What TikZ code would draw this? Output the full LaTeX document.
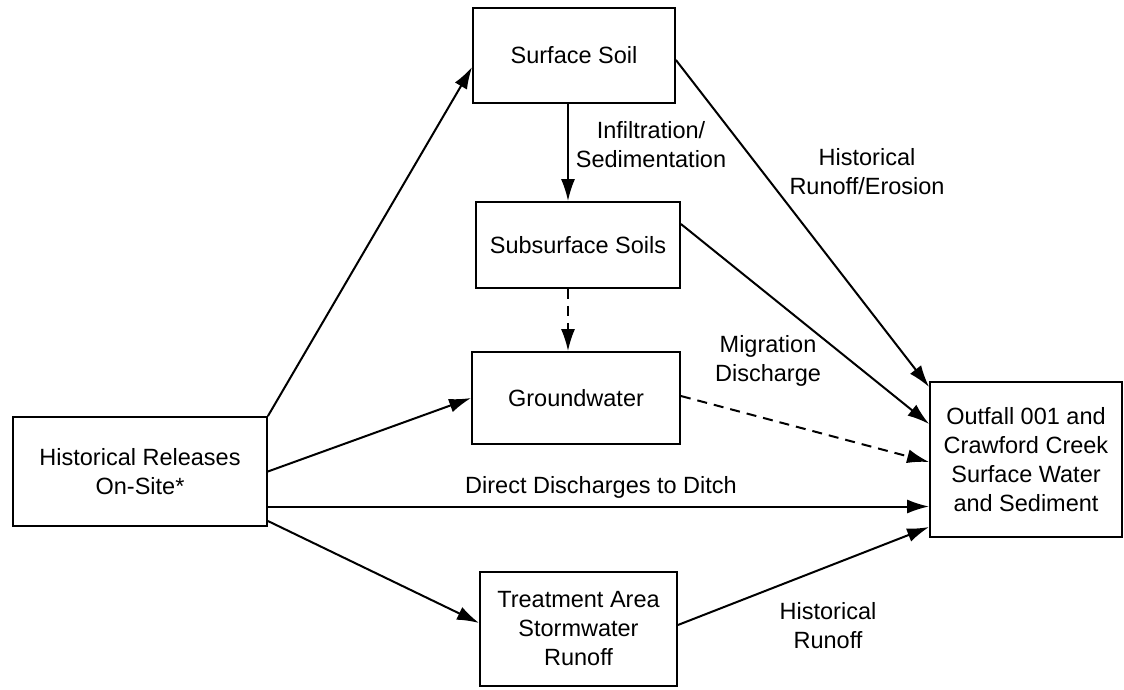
\documentclass[tikz,border=0pt]{standalone}
\usepackage{fontspec}
\setmainfont{Liberation Sans}
\usetikzlibrary{arrows.meta}
\begin{document}
\begin{tikzpicture}[x=1pt,y=1pt,
  box/.style={draw,line width=1.8pt,inner sep=0pt,align=center,font=\fontsize{23.5}{29}\selectfont},
  lbl/.style={inner sep=0pt,align=center,font=\fontsize{23.5}{29}\selectfont},
  arr/.style={line width=2pt,-{Latex[length=22pt,width=14pt]}},
  dsh/.style={arr,dash pattern=on 10pt off 7pt}]
\useasboundingbox (0,0) rectangle (1124,689);
\node[box,minimum width=254pt,minimum height=109pt] (hr) at (140,217.5) {Historical Releases\\On-Site*};
\node[box,minimum width=202pt,minimum height=95pt] (ss) at (574,633.5) {Surface Soil};
\node[box,minimum width=204pt,minimum height=86pt] (sub) at (578,444) {Subsurface Soils};
\node[box,minimum width=208pt,minimum height=92pt] (gw) at (576,291) {Groundwater};
\node[box,minimum width=197pt,minimum height=114pt] (ta) at (578.5,60) {Treatment Area\\Stormwater\\Runoff};
\node[box,minimum width=192pt,minimum height=155pt] (of) at (1026,229.5) {Outfall 001 and\\Crawford Creek\\Surface Water\\and Sediment};

\node[lbl] (l1) at (651,544) {Infiltration/\\Sedimentation};
\node[lbl] (l2) at (867,517) {Historical\\Runoff/Erosion};
\node[lbl] (l3) at (768,328) {Migration\\Discharge};
\node[lbl] (l4) at (601,202) {Direct Discharges to Ditch};
\node[lbl] (l5) at (828,63) {Historical\\Runoff};

\draw[arr] (hr.north east) -- ([yshift=-11.5pt]ss.west);
\draw[arr] (hr.east) -- (gw.west);
\draw[arr] ([yshift=-35pt]hr.east) -- ([yshift=-35pt]hr.east -| of.west);
\draw[arr] ([yshift=-49.5pt]hr.east) -- ([yshift=6pt]ta.west);
\draw[arr] ([xshift=-6pt]ss.south) -- ([xshift=-6pt]ss.south |- sub.north);
\draw[dsh] ([xshift=-10pt]sub.south) -- ([xshift=-10pt]sub.south |- gw.north);
\draw[arr] ([yshift=-4.5pt]ss.east) -- ([yshift=72.5pt]of.west);
\draw[arr] ([yshift=21pt]sub.east) -- ([yshift=35.5pt]of.west);
\draw[dsh] ([yshift=2pt]gw.east) -- ([yshift=-2.5pt]of.west);
\draw[arr] ([yshift=4pt]ta.east) -- ([yshift=-67.5pt]of.west);
\end{tikzpicture}
\end{document}
